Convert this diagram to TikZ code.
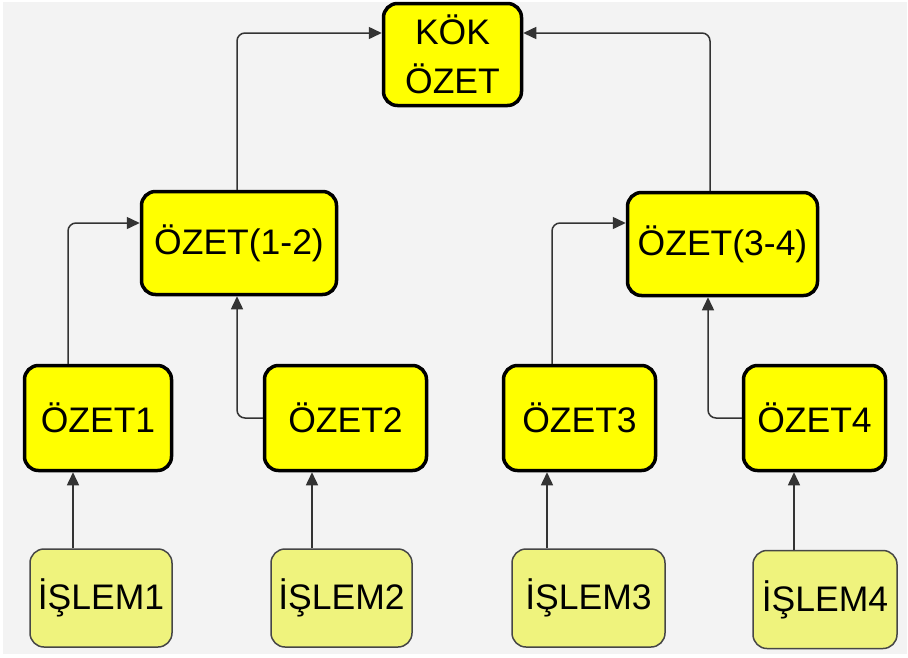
\documentclass[tikz,border=0pt]{standalone}
\usepackage{fontspec}
\setmainfont{Liberation Sans}
\usetikzlibrary{arrows.meta}
\definecolor{bgray}{RGB}{243,243,243}
\definecolor{sumfill}{RGB}{255,255,0}
\definecolor{opfill}{RGB}{239,243,125}
\definecolor{linegray}{RGB}{51,51,51}
\definecolor{opedge}{RGB}{70,70,70}
\tikzset{
  sumbox/.style={draw=black, line width=3.5pt, fill=sumfill, rounded corners=14pt,
    inner sep=0pt, align=center, font=\fontsize{35.5}{49}\selectfont},
  opbox/.style={draw=opedge, line width=1.5pt, fill=opfill, rounded corners=14pt,
    inner sep=0pt, align=center, font=\fontsize{35.5}{49}\selectfont},
  conn/.style={draw=linegray, line width=1.5pt, rounded corners=8pt,
    -{Triangle[length=13pt,width=12pt]}},
}
\begin{document}
\begin{tikzpicture}[x=1pt,y=-1pt]
% page and backdrop
\useasboundingbox (0,0) rectangle (908,657);
\fill[white] (0,0) rectangle (908,657);
\fill[bgray] (3,2) rectangle (907,654);

% root summary
\node[sumbox, minimum width=138pt, minimum height=102pt] (root) at (452.5,54.5) {KÖK\\ÖZET};

% intermediate summaries
\node[sumbox, minimum width=195pt, minimum height=103pt] (s12) at (239,243) {ÖZET(1-2)};
\node[sumbox, minimum width=190pt, minimum height=103pt] (s34) at (722.5,244) {ÖZET(3-4)};

% leaf summaries
\node[sumbox, minimum width=147pt, minimum height=105pt] (s1) at (98,418) {ÖZET1};
\node[sumbox, minimum width=162pt, minimum height=105pt] (s2) at (345.5,418) {ÖZET2};
\node[sumbox, minimum width=152pt, minimum height=105pt] (s3) at (579.5,418) {ÖZET3};
\node[sumbox, minimum width=142pt, minimum height=105pt] (s4) at (814.5,418) {ÖZET4};

% operations
\node[opbox, minimum width=142pt, minimum height=98pt] (o1) at (101,598) {İŞLEM1};
\node[opbox, minimum width=141pt, minimum height=98pt] (o2) at (341.5,598) {İŞLEM2};
\node[opbox, minimum width=153pt, minimum height=98pt] (o3) at (588.5,598) {İŞLEM3};
\node[opbox, minimum width=144pt, minimum height=98pt] (o4) at (825,599.5) {İŞLEM4};

% operations feed their summaries
\draw[conn] ([xshift=-28pt]o1.north) -- ([xshift=-25pt]s1.south);
\draw[conn] ([xshift=-29.5pt]o2.north) -- ([xshift=-33.5pt]s2.south);
\draw[conn] ([xshift=-41.5pt]o3.north) -- ([xshift=-32.5pt]s3.south);
\draw[conn] ([xshift=-31pt]o4.north) -- ([xshift=-20.5pt]s4.south);

% summaries combine pairwise
\draw[conn] ([xshift=-30pt]s1.north) |- ([yshift=20pt]s12.west);
\draw[conn] (s2.west) -| ([xshift=-2pt]s12.south);
\draw[conn] ([xshift=-27.5pt]s3.north) |- ([yshift=21pt]s34.west);
\draw[conn] (s4.west) -| ([xshift=-14.5pt]s34.south);

% pairs combine into the root
\draw[conn] ([xshift=-2pt]s12.north) |- ([yshift=21.5pt]root.west);
\draw[conn] ([xshift=-12.5pt]s34.north) |- ([yshift=21.5pt]root.east);
\end{tikzpicture}
\end{document}
